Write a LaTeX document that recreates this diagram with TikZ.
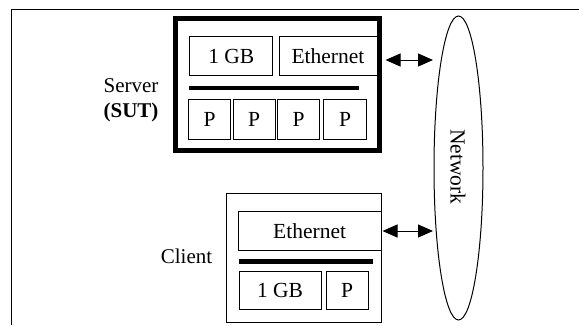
\documentclass[tikz,border=0pt]{standalone}
\usepackage{fontspec}
\setmainfont{Liberation Serif}
\usetikzlibrary{arrows.meta,shapes.geometric}
\begin{document}
\begin{tikzpicture}[x=1pt,y=-1pt,
  box/.style={draw,line width=1pt,inner sep=0pt,minimum width=#1},
  lbl/.style={inner sep=0pt,font=\fontsize{21}{25}\selectfont},
  bus/.style={line width=4.5pt},
  link/.style={line width=1pt,{Triangle[length=15pt,width=13pt]}-{Triangle[length=15pt,width=13pt]}},
  txt/.style={font=\fontsize{21.5}{24}\selectfont}]
\useasboundingbox (0,0) rectangle (579,325);
% frame
\draw[line width=1pt] (579,9) -- (11,9) -- (11,325);
% server
\node[draw,line width=5pt,minimum width=203.5pt,minimum height=131.5pt,inner sep=0pt] (srv) at (277.25,84.25) {};
\node[box=82.7pt,minimum height=39.3pt,txt] (smem) at (231.3,56.3) {1 GB};
\node[box=98pt,minimum height=39.3pt,txt] (seth) at (328,56.3) {Ethernet};
\coordinate (sbl) at (189,88);
\coordinate (sbr) at (359,88);
\draw[bus] (sbl) -- (sbr);
\node[box=42pt,minimum height=40pt,txt] (p1) at (209.5,119.3) {P};
\node[box=42pt,minimum height=40pt,txt] (p2) at (254,119.3) {P};
\node[box=42pt,minimum height=40pt,txt] (p3) at (298.5,119.3) {P};
\node[box=43pt,minimum height=40pt,txt] (p4) at (345,119.3) {P};
\node[lbl,align=center] (slabel) at (131,100) {Server\\\textbf{(SUT)}};
% network
\node[draw,ellipse,line width=1pt,minimum width=49pt,minimum height=304pt,inner sep=0pt] (net) at (458.5,168) {};
\node[txt,rotate=-90,inner sep=0pt] (nettxt) at (458,167) {Network};
% client
\node[box=154.3pt,minimum height=129pt] (cli) at (303.85,257.8) {};
\node[box=142.7pt,minimum height=38.3pt,txt] (ceth) at (309.65,230.85) {Ethernet};
\coordinate (cbl) at (239.3,261.3);
\coordinate (cbr) at (372.7,261.3);
\draw[bus] (cbl) -- (cbr);
\node[box=82pt,minimum height=37.3pt,txt] (cmem) at (280,290.35) {1 GB};
\node[box=42.3pt,minimum height=37.3pt,txt] (cp) at (347.15,290.35) {P};
\node[lbl] (clabel) at (186.5,256.7) {Client};
% links
\coordinate (netA) at (433,60);
\coordinate (netB) at (433,231);
\draw[link] ([xshift=4pt]srv.east |- netA) -- (netA);
\draw[link] ([xshift=1pt]cli.east |- netB) -- (netB);
\end{tikzpicture}
\end{document}
